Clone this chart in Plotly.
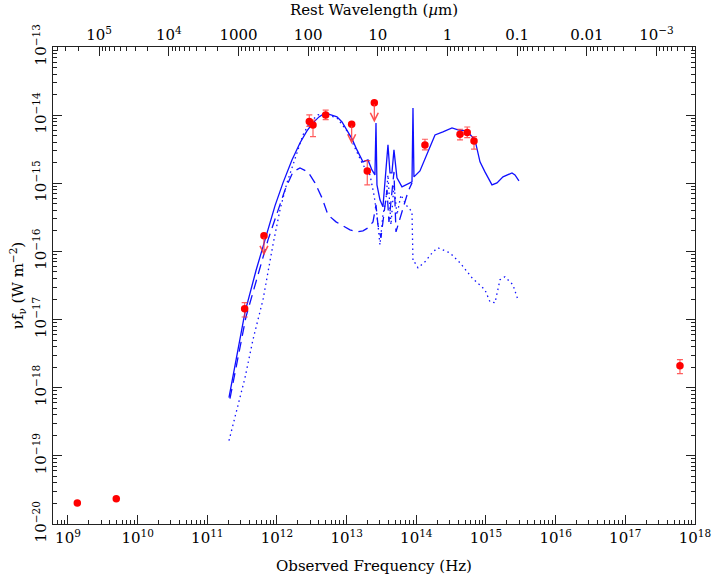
import numpy as np
import plotly.graph_objects as go

# ---------------- data (log10 values) ----------------
REDSHIFT = 0.07
C_UM = 2.998e14  # speed of light in micron / s

# total model (solid)
total_lognu = [11.311, 11.541, 11.698, 11.856, 11.971, 12.086, 12.215, 12.330, 12.430, 12.517,
               12.603, 12.689, 12.861, 12.933, 13.005, 13.077,
               13.148, 13.234, 13.306, 13.363, 13.406, 13.421, 13.435, 13.449, 13.478,
               13.521, 13.564, 13.593, 13.622, 13.650, 13.679, 13.722, 13.794, 13.938,
               13.952, 13.966, 14.052, 14.153, 14.268, 14.382, 14.512, 14.598, 14.727,
               14.842, 14.914, 14.985, 15.086, 15.158, 15.244, 15.373, 15.416, 15.473]
total_logf = [-18.147, -16.890, -16.284, -15.727, -15.331, -14.994, -14.657, -14.408, -14.232, -14.114,
              -14.026, -13.968, -14.026, -14.100, -14.217, -14.349,
              -14.510, -14.686, -14.657, -14.804, -14.877, -14.114, -15.023, -15.097, -15.243,
              -15.346, -14.848, -14.437, -14.848, -14.848, -14.510, -14.921, -15.053, -14.979,
              -13.894, -14.906, -14.818, -14.584, -14.290, -14.246, -14.188, -14.217, -14.232,
              -14.364, -14.686, -14.833, -15.023, -14.994, -14.906, -14.848, -14.877, -14.965]

# dashed component
dash_lognu = [11.325, 11.555, 11.871, 12.115, 12.229, 12.330, 12.445, 12.545, 12.646,
              12.732, 12.847, 12.947, 13.048, 13.148, 13.234, 13.306, 13.378, 13.421,
              13.449, 13.492, 13.536, 13.579, 13.607, 13.650, 13.679, 13.708, 13.751,
              13.794, 13.880, 13.938]
dash_logf = [-18.161, -16.959, -15.830, -15.097, -14.833, -14.774, -14.833, -14.994, -15.214,
             -15.463, -15.566, -15.625, -15.683, -15.713, -15.698, -15.654, -15.566, -15.317,
             -15.610, -15.801, -15.463, -15.097, -15.566, -15.170, -14.833, -15.713, -15.566,
             -15.419, -15.126, -14.994]

# dotted component
dot_lognu = [11.311, 11.426, 11.541, 11.655, 11.799, 11.942, 12.043, 12.143, 12.258,
             12.373, 12.473, 12.588, 12.689, 12.861, 13.005, 13.148, 13.234, 13.335,
             13.392, 13.435, 13.478, 13.521, 13.564, 13.593, 13.636, 13.679, 13.722,
             13.780, 13.851, 13.938, 13.952, 13.981, 14.024, 14.124, 14.239, 14.311,
             14.483, 14.627, 14.799, 14.985, 15.057, 15.129, 15.201, 15.272, 15.387, 15.459]
dot_logf = [-18.777, -18.323, -17.853, -17.296, -16.710, -15.903, -15.390, -14.994, -14.628,
            -14.290, -14.100, -13.997, -13.982, -14.041, -14.232, -14.540, -14.730, -14.877,
            -15.170, -15.463, -15.903, -15.463, -15.243, -14.877, -15.610, -15.023, -15.463,
            -15.170, -15.317, -15.419, -16.152, -16.167, -16.240, -16.152, -16.006, -15.947,
            -16.021, -16.167, -16.387, -16.563, -16.739, -16.754, -16.416, -16.372, -16.490, -16.710]

# detections
obs_lognu = [9.134, 9.693, 11.536, 12.464, 12.517, 12.699, 13.296, 14.124, 14.627, 14.731, 14.828, 17.784]
obs_logf = [-19.691, -19.628, -16.842, -14.095, -14.144, -13.997, -14.818, -14.437, -14.280, -14.256, -14.378, -17.677]
obs_err_up = [0.0, 0.0, 0.092, 0.098, 0.07, 0.07, 0.151, 0.083, 0.073, 0.082, 0.063, 0.088]
obs_err_dn = [0.0, 0.0, 0.120, 0.070, 0.17, 0.07, 0.205, 0.073, 0.084, 0.073, 0.122, 0.117]

# upper limits
lim_lognu = [11.813, 13.072, 13.397]
lim_logf = [-15.771, -14.133, -13.817]
LIMIT_ARROW_DEX = 0.29

# axis ticks
freq_exponents = list(range(9, 19))
flux_exponents = list(range(-20, -12))
wave_major = [1e5, 1e4, 1e3, 1e2, 1e1, 1e0, 1e-1, 1e-2, 1e-3]
wave_labels = ['10<sup>5</sup>', '10<sup>4</sup>', '1000', '100', '10', '1', '0.1', '0.01', '10<sup>\u22123</sup>']

# ---------------- figure ----------------
def lin(a):
    return 10 ** np.asarray(a, dtype=float)

BLUE = '#1010ff'
RED = '#ff0000'
ERR = 'rgba(255,40,40,0.75)'
FONT = 'DejaVu Serif'
AXC = '#222222'

fig = go.Figure()
fig.add_trace(go.Scatter(x=lin(dot_lognu), y=lin(dot_logf), mode='lines',
                         line=dict(color=BLUE, width=1.3, dash='1.5px,3.5px'), hoverinfo='skip'))
fig.add_trace(go.Scatter(x=lin(dash_lognu), y=lin(dash_logf), mode='lines',
                         line=dict(color=BLUE, width=1.3, dash='10px,6px'), hoverinfo='skip'))
fig.add_trace(go.Scatter(x=lin(total_lognu), y=lin(total_logf), mode='lines',
                         line=dict(color=BLUE, width=1.3), hoverinfo='skip'))

F = lin(obs_logf)
fig.add_trace(go.Scatter(
    x=lin(obs_lognu), y=F, mode='markers',
    marker=dict(color=RED, size=7.5),
    error_y=dict(type='data', symmetric=False,
                 array=F * (lin(obs_err_up) - 1), arrayminus=F * (1 - 1 / lin(obs_err_dn)),
                 color=ERR, thickness=1.2, width=3)))
fig.add_trace(go.Scatter(x=lin(lim_lognu), y=lin(lim_logf), mode='markers',
                         marker=dict(color=RED, size=7.5)))

# invisible trace to activate the top axis
fig.add_trace(go.Scatter(x=lin(total_lognu), y=lin(total_logf), xaxis='x2', mode='lines',
                         line=dict(width=0), opacity=0, hoverinfo='skip'))

for lx, ly in zip(lim_lognu, lim_logf):
    fig.add_annotation(x=lx, y=ly - LIMIT_ARROW_DEX, ax=lx, ay=ly, xref='x', yref='y',
                       axref='x', ayref='y', text='', showarrow=True, arrowhead=5,
                       arrowsize=1.3, arrowwidth=1.2, arrowcolor='rgba(255,60,60,0.9)')

xr = [8.785, 18.0]
minor_freq = [k * 10.0 ** e for e in range(8, 18) for k in range(2, 10)]
minor_flux = [k * 10.0 ** e for e in range(-20, -13) for k in range(2, 10)]
wave_minor = [k * 10.0 ** e for e in range(-4, 6) for k in range(2, 10)]

def to_nu(lam_um):
    return [C_UM / (l * (1 + REDSHIFT)) for l in lam_um]

tickfont = dict(family=FONT, size=15, color='black')
fig.update_layout(
    width=715, height=581, margin=dict(l=53, r=20, t=47, b=57, autoexpand=False),
    plot_bgcolor='white', paper_bgcolor='white', showlegend=False,
    font=dict(family=FONT, size=15, color='black'),
    xaxis=dict(type='log', range=xr, showgrid=False, zeroline=False, automargin=False,
               showline=True, linecolor=AXC, linewidth=1, mirror=False,
               ticks='inside', ticklen=9, tickwidth=1, tickcolor=AXC,
               tickvals=[10.0 ** e for e in freq_exponents],
               ticktext=['10<sup>%d</sup>' % e for e in freq_exponents],
               tickfont=tickfont,
               minor=dict(tickvals=minor_freq, ticks='inside', ticklen=4, tickcolor=AXC),
               title=dict(text='Observed Frequency (Hz)', font=dict(family=FONT, size=15), standoff=14)),
    xaxis2=dict(type='log', range=xr, overlaying='x', side='top', anchor='y', automargin=False,
                showgrid=False, zeroline=False, showline=True, linecolor=AXC, linewidth=1,
                ticks='inside', ticklen=9, tickwidth=1, tickcolor=AXC,
                tickvals=to_nu(wave_major), ticktext=wave_labels, tickfont=tickfont,
                minor=dict(tickvals=to_nu(wave_minor), ticks='inside', ticklen=4, tickcolor=AXC),
                title=dict(text='Rest Wavelength (<i>\u00b5</i>m)', font=dict(family=FONT, size=15), standoff=4)),
    yaxis=dict(type='log', range=[-20, -13], showgrid=False, zeroline=False, automargin=False,
               showline=True, linecolor=AXC, linewidth=1, mirror='ticks',
               ticks='inside', ticklen=9, tickwidth=1, tickcolor=AXC,
               tickvals=[10.0 ** e for e in flux_exponents],
               ticktext=['10<sup>\u2212%d</sup>' % (-e) for e in flux_exponents],
               tickangle=-90, tickfont=tickfont,
               minor=dict(tickvals=minor_flux, ticks='inside', ticklen=4, tickcolor=AXC),
               title=dict(text='\u03bdf<sub>\u03bd</sub> (W m<sup>\u22122</sup>)',
                          font=dict(family=FONT, size=15), standoff=2)),
)

fig.write_html('out.html', config={'displayModeBar': False},
               post_script="document.body.style.margin='0';")
